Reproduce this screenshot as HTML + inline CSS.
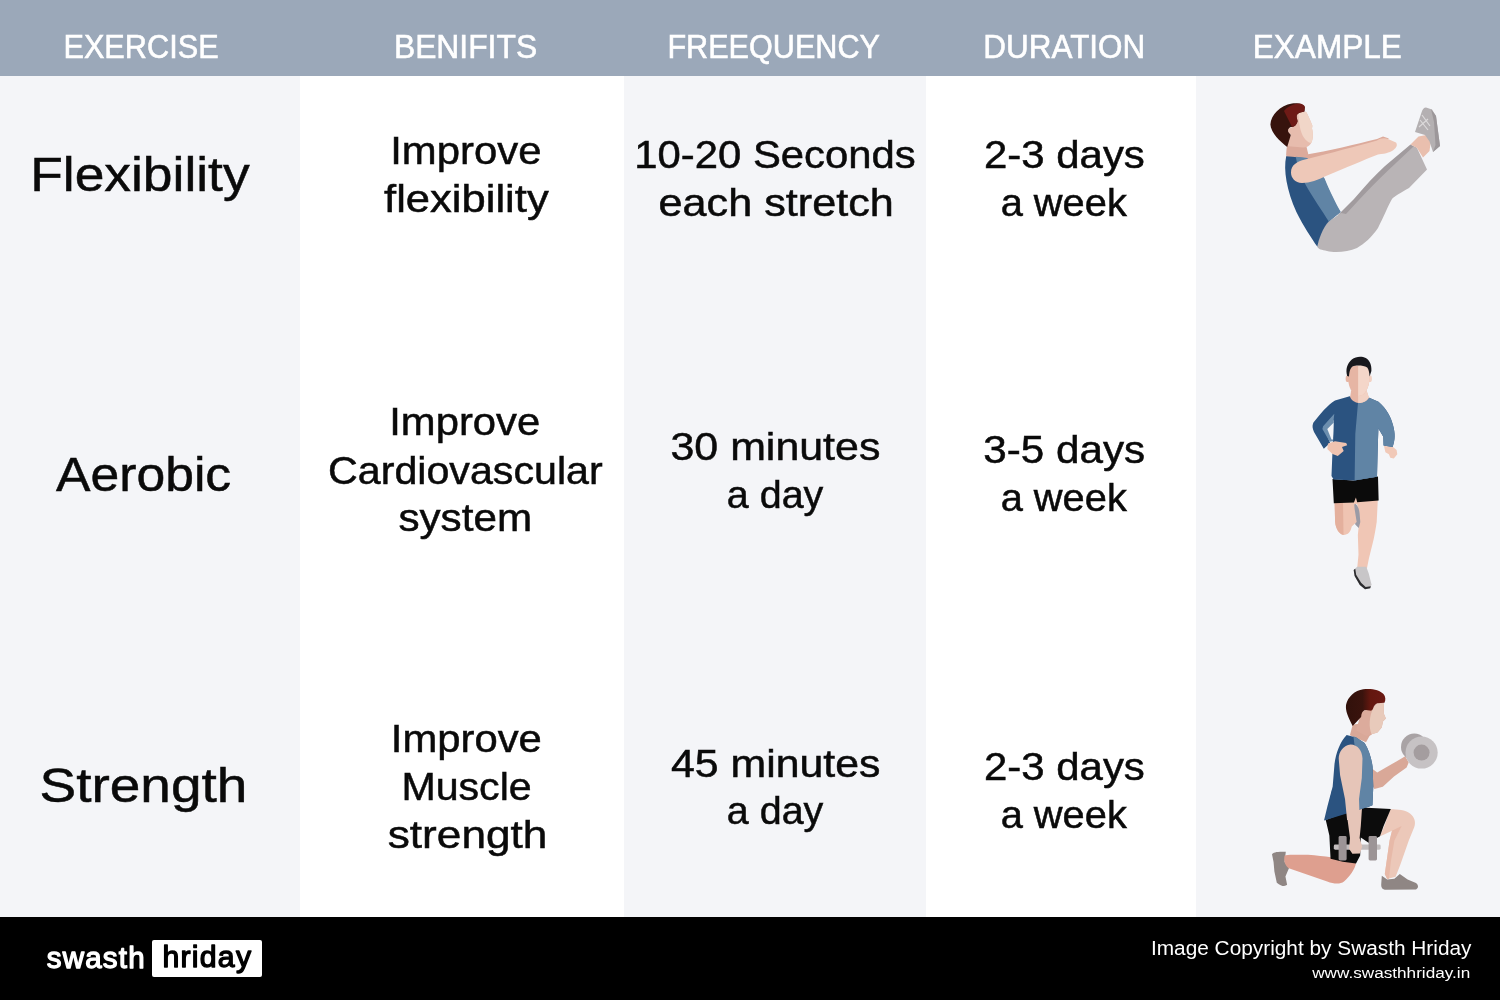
<!DOCTYPE html>
<html lang="en">
<head>
<meta charset="utf-8">
<title>Exercise types - Swasth Hriday</title>
<style>
html,body{margin:0;padding:0;background:#fff;}
body{width:1500px;height:1000px;position:relative;overflow:hidden;font-family:"Liberation Sans",sans-serif;}
.hdr{position:absolute;left:0;top:0;width:1500px;height:75.6px;background:#9ba8b9;}
.col{position:absolute;top:74px;height:843px;}
.c1{left:0;width:300px;background:#f4f5f8;}
.c2{left:300px;width:324px;background:#ffffff;}
.c3{left:624px;width:302px;background:#f4f5f8;}
.c4{left:926px;width:270px;background:#ffffff;}
.c5{left:1196px;width:304px;background:#f4f5f8;}
.ftr{position:absolute;left:0;top:916.7px;width:1500px;height:83.3px;background:#000;}
.logo{position:absolute;left:152.2px;top:22.9px;width:110.3px;height:37.6px;background:#fff;border-radius:2px;}
svg.ov{position:absolute;left:0;top:0;}
svg.ov text{font-family:"Liberation Sans",sans-serif;}
</style>
</head>
<body>
<div class="col c1"></div><div class="col c2"></div><div class="col c3"></div><div class="col c4"></div><div class="col c5"></div>
<div class="hdr"></div>
<div class="ftr"><div class="logo"></div></div>
<svg class="ov" width="1500" height="1000" viewBox="0 0 1500 1000">
<text transform="translate(63.41,58.00) scale(0.9164,1)" font-size="33.5" font-weight="400" fill="#ffffff" stroke="#ffffff" stroke-width="0.6">EXERCISE</text>
<text transform="translate(393.92,58.00) scale(0.9503,1)" font-size="33.5" font-weight="400" fill="#ffffff" stroke="#ffffff" stroke-width="0.6">BENIFITS</text>
<text transform="translate(667.42,58.00) scale(0.9136,1)" font-size="33.5" font-weight="400" fill="#ffffff" stroke="#ffffff" stroke-width="0.6">FREEQUENCY</text>
<text transform="translate(983.35,58.00) scale(0.9391,1)" font-size="33.5" font-weight="400" fill="#ffffff" stroke="#ffffff" stroke-width="0.6">DURATION</text>
<text transform="translate(1252.74,58.00) scale(0.9428,1)" font-size="33.5" font-weight="400" fill="#ffffff" stroke="#ffffff" stroke-width="0.6">EXAMPLE</text>
<text transform="translate(30.21,191.00) scale(1.0894,1)" font-size="49" font-weight="400" fill="#0a0a0a" stroke="#0a0a0a" stroke-width="0.5">Flexibility</text>
<text transform="translate(55.96,490.60) scale(1.0548,1)" font-size="49" font-weight="400" fill="#0a0a0a" stroke="#0a0a0a" stroke-width="0.5">Aerobic</text>
<text transform="translate(39.46,802.00) scale(1.1223,1)" font-size="49" font-weight="400" fill="#0a0a0a" stroke="#0a0a0a" stroke-width="0.5">Strength</text>
<text transform="translate(390.16,163.60) scale(1.0877,1)" font-size="38.5" font-weight="400" fill="#0a0a0a" stroke="#0a0a0a" stroke-width="0.5">Improve</text>
<text transform="translate(384.02,212.00) scale(1.1320,1)" font-size="38.5" font-weight="400" fill="#0a0a0a" stroke="#0a0a0a" stroke-width="0.5">flexibility</text>
<text transform="translate(389.27,435.30) scale(1.0848,1)" font-size="38.5" font-weight="400" fill="#0a0a0a" stroke="#0a0a0a" stroke-width="0.5">Improve</text>
<text transform="translate(328.03,483.70) scale(1.0703,1)" font-size="38.5" font-weight="400" fill="#0a0a0a" stroke="#0a0a0a" stroke-width="0.5">Cardiovascular</text>
<text transform="translate(398.38,531.30) scale(1.0966,1)" font-size="38.5" font-weight="400" fill="#0a0a0a" stroke="#0a0a0a" stroke-width="0.5">system</text>
<text transform="translate(390.77,751.70) scale(1.0862,1)" font-size="38.5" font-weight="400" fill="#0a0a0a" stroke="#0a0a0a" stroke-width="0.5">Improve</text>
<text transform="translate(401.39,799.70) scale(1.0689,1)" font-size="38.5" font-weight="400" fill="#0a0a0a" stroke="#0a0a0a" stroke-width="0.5">Muscle</text>
<text transform="translate(387.74,847.70) scale(1.1478,1)" font-size="38.5" font-weight="400" fill="#0a0a0a" stroke="#0a0a0a" stroke-width="0.5">strength</text>
<text transform="translate(634.31,168.10) scale(1.0867,1)" font-size="38.5" font-weight="400" fill="#0a0a0a" stroke="#0a0a0a" stroke-width="0.5">10-20 Seconds</text>
<text transform="translate(658.52,216.10) scale(1.1223,1)" font-size="38.5" font-weight="400" fill="#0a0a0a" stroke="#0a0a0a" stroke-width="0.5">each stretch</text>
<text transform="translate(670.51,459.80) scale(1.1145,1)" font-size="38.5" font-weight="400" fill="#0a0a0a" stroke="#0a0a0a" stroke-width="0.5">30 minutes</text>
<text transform="translate(726.86,507.80) scale(1.0247,1)" font-size="38.5" font-weight="400" fill="#0a0a0a" stroke="#0a0a0a" stroke-width="0.5">a day</text>
<text transform="translate(671.07,776.50) scale(1.1115,1)" font-size="38.5" font-weight="400" fill="#0a0a0a" stroke="#0a0a0a" stroke-width="0.5">45 minutes</text>
<text transform="translate(726.86,824.30) scale(1.0247,1)" font-size="38.5" font-weight="400" fill="#0a0a0a" stroke="#0a0a0a" stroke-width="0.5">a day</text>
<text transform="translate(983.89,168.10) scale(1.0902,1)" font-size="38.5" font-weight="400" fill="#0a0a0a" stroke="#0a0a0a" stroke-width="0.5">2-3 days</text>
<text transform="translate(1000.65,216.10) scale(1.0347,1)" font-size="38.5" font-weight="400" fill="#0a0a0a" stroke="#0a0a0a" stroke-width="0.5">a week</text>
<text transform="translate(983.33,463.00) scale(1.0967,1)" font-size="38.5" font-weight="400" fill="#0a0a0a" stroke="#0a0a0a" stroke-width="0.5">3-5 days</text>
<text transform="translate(1000.65,511.00) scale(1.0347,1)" font-size="38.5" font-weight="400" fill="#0a0a0a" stroke="#0a0a0a" stroke-width="0.5">a week</text>
<text transform="translate(983.89,779.70) scale(1.0902,1)" font-size="38.5" font-weight="400" fill="#0a0a0a" stroke="#0a0a0a" stroke-width="0.5">2-3 days</text>
<text transform="translate(1000.65,827.70) scale(1.0347,1)" font-size="38.5" font-weight="400" fill="#0a0a0a" stroke="#0a0a0a" stroke-width="0.5">a week</text>
<text transform="translate(46.75,967.60) scale(1.0005,1)" font-size="29.5" font-weight="400" fill="#ffffff" stroke-linejoin="round" letter-spacing="1.2" stroke="#ffffff" stroke-width="1.3">swasth</text>
<text transform="translate(162.46,967.20) scale(1.0257,1)" font-size="29.5" font-weight="400" fill="#000000" stroke-linejoin="round" letter-spacing="1.2" stroke="#000000" stroke-width="1.3">hriday</text>
<text transform="translate(1150.96,954.90) scale(1.0520,1)" font-size="19.8" font-weight="400" fill="#ffffff">Image Copyright by Swasth Hriday</text>
<text transform="translate(1312.20,978.20) scale(1.1301,1)" font-size="15.2" font-weight="400" fill="#ffffff">www.swasthhriday.in</text>
<g id="fig-flex">
  <!-- far arm (darker strip) -->
  <path d="M1304,155 C1330,150.5 1355,144.5 1377,139 L1383,136.5 L1389,138.5 L1378,144 C1350,151 1325,158 1308,162 Z" fill="#dcaa9b"/>
  <!-- far leg (darker) -->
  <path d="M1338,215 L1354,199 C1365,186 1375,175 1385,166 L1410.5,144.5 L1417,148 L1400,175 L1350,225 Z" fill="#a19b9e"/>
  <!-- pants -->
  <path d="M1317.5,247 C1318,238 1322,228 1328,222 L1341,213 L1346,214 L1358,201 C1368,190 1378,180 1388,170.5 L1413.5,146.5 L1417,148 L1427,169.5 L1409,188 C1400,193 1395,196 1392,199 C1388,206 1384,216 1378,228 C1372,237 1364,244 1357,248 C1348,252 1335,253 1327,251 C1322,250 1318,249 1317.5,247 Z" fill="#b9b4b6"/>
  <!-- ankle -->
  <path d="M1410.5,144.5 L1418.5,136.5 L1426.5,135 L1431,140 L1429.5,151 L1423,157.5 L1417,148 Z" fill="#e9bfae"/>
  <!-- shoe -->
  <path d="M1415,132 L1421.5,112.5 C1422.5,109 1424,107.5 1426,107.5 L1432,109.5 L1436,116 L1440,146 L1433,152 L1429.5,141.5 L1425,135 Z" fill="#b4b0b2"/>
  <path d="M1431,109 L1436,116 L1440,146 L1433,152 L1435.5,145 L1434,122 Z" fill="#9c979a"/>
  <path d="M1420,120 L1428,130 M1422,115 L1430,126 M1419,127 L1428,119" stroke="#dcdadb" stroke-width="1.2" fill="none"/>
  <!-- torso -->
  <g transform="translate(1270,140) scale(0.12)">
    <path d="M140,60 L300,70 L325,150 L135,140 Z" fill="#dcaa9b"/>
    <path d="M135,135 C110,250 140,420 220,600 C280,720 340,810 395,890 C405,830 440,730 490,680 L585,600 C545,530 495,430 450,320 L305,150 Z" fill="#2b5380"/>
    <path d="M215,140 L310,150 L455,320 C500,430 550,530 590,600 L490,680 C440,600 350,470 300,380 C260,300 225,210 215,140 Z" fill="#6084a5"/>
  </g>
  <!-- head -->
  <g transform="translate(1260,95) scale(0.08)">
    <path d="M340,620 L580,640 L610,770 L330,750 Z" fill="#dcaa9b"/>
    <path d="M470,215 L575,210 C600,250 630,320 655,385 L650,420 C665,480 665,560 640,600 C620,640 580,655 540,655 L350,640 C340,600 370,520 385,500 L355,440 L400,400 L465,345 L460,250 Z" fill="#e7bcad"/>
    <path d="M480,225 L575,210 C600,250 630,320 655,385 L650,420 C665,480 665,560 640,600 C610,600 560,560 530,500 C500,430 480,330 480,225 Z" fill="#f1d6c8"/>
    <path d="M340,650 C250,580 140,480 130,370 C135,250 250,130 400,105 C470,95 540,110 560,150 L555,205 C520,215 480,215 460,250 C450,290 480,320 465,345 C450,380 430,400 400,400 C380,395 360,410 355,440 C355,470 375,480 385,500 Z" fill="#37130d"/>
    <path d="M300,200 C330,150 420,110 480,105 C530,105 560,130 560,150 L555,205 C520,215 480,215 460,250 C450,290 480,320 465,345 C450,380 430,400 400,400 Z" fill="#6e1a16"/>
    <circle cx="388" cy="445" r="36" fill="#e7bcad"/>
  </g>
  <!-- near arm -->
  <path d="M1291,172.5 C1291,165 1297,161.5 1305,159.5 C1320,156 1345,149 1370,142.5 L1377,140.5 C1380,138.5 1384,137.5 1388,139 L1396,142.5 C1398,145 1396,148 1394,149.5 C1391,152 1387,153.5 1378,154.5 C1365,159.5 1345,168 1326,176 C1318,180 1310,183 1302,183 C1295,182.5 1291,178 1291,172.5 Z" fill="#eec8b8"/>
</g>

<g id="fig-aero">
  <g transform="translate(1300,470) scale(0.13)">
    <!-- right leg -->
    <path d="M405,200 L600,200 L590,400 C580,470 570,520 560,560 L530,680 L515,755 L440,755 L450,650 L445,500 L455,400 L440,262 L405,262 Z" fill="#f0c6b5"/>
    <!-- back shoe -->
    <path d="M405,265 L430,262 C445,280 455,300 458,330 L464,400 L452,447 L425,420 L420,340 Z" fill="#9b9ba6"/>
    <!-- left leg (bent) -->
    <path d="M265,200 L270,400 C275,450 300,495 335,500 C370,500 390,475 398,435 L436,400 L420,300 L412,200 Z" fill="#efc4b2"/>
    <path d="M265,200 L270,400 C275,450 300,495 335,500 L330,200 Z" fill="#e4b09d"/>
    <!-- shoe -->
    <path d="M440,745 L510,745 L530,800 L550,880 L540,910 L500,917 L460,885 L420,815 L413,770 Z" fill="#c8c6c8"/>
    <path d="M413,770 L420,815 L460,885 L500,917 L540,910 L545,895 L505,900 L470,868 L432,805 L425,760 Z" fill="#2b2b2e"/>
    <!-- shorts -->
    <path d="M250,70 L410,80 L600,50 L605,235 L440,248 L430,212 L415,250 L260,255 Z" fill="#0b0b0b"/>
  </g>
  <g transform="translate(1300,350) scale(0.14)">
    <!-- right hand -->
    <path d="M600,685 L660,690 L690,715 L695,745 L670,775 L645,770 L635,745 L610,730 Z" fill="#f1c9b8"/>
    <!-- shirt -->
    <path d="M355,330 L250,360 C200,390 140,460 95,520 C85,545 90,560 100,585 L170,705 L215,665 L190,600 L185,560 L240,500 L235,650 L225,900 L240,925 L390,932 L550,905 L555,700 L560,560 L595,620 L597,682 L662,692 C680,640 680,600 665,540 C650,480 620,420 560,370 L490,340 L430,375 Z" fill="#2b5380"/>
    <path d="M415,370 L430,375 L490,340 L560,370 C620,420 650,480 665,540 C680,600 680,640 662,692 L597,682 L595,620 L560,560 L555,700 L550,905 L390,932 L395,600 Z" fill="#6084a5"/>
    <path d="M245,455 L165,545 L160,565 L212,655 L237,650 L240,500 Z" fill="#6c8eae"/>
    <path d="M240,520 L195,565 L225,640 L236,640 Z" fill="#f4f5f8"/>
    <!-- left hand -->
    <path d="M200,668 L250,652 L330,665 L337,680 L300,692 L312,722 L270,757 L232,742 L195,707 Z" fill="#efc3b0"/>
    <!-- neck + face -->
    <path d="M365,290 L475,290 L492,340 C480,365 450,378 428,378 C400,378 370,365 358,335 Z" fill="#e6b5a4"/>
    <path d="M415,290 L475,290 L492,340 C480,365 450,378 428,378 L415,377 Z" fill="#f2d2c4"/>
    <ellipse cx="340" cy="205" rx="14" ry="24" fill="#e6b5a4"/>
    <ellipse cx="500" cy="205" rx="14" ry="24" fill="#f2d2c4"/>
    <path d="M350,130 C370,105 470,105 490,130 L497,200 C495,250 480,290 455,315 C435,330 405,330 385,315 C360,290 345,250 343,200 Z" fill="#e6b5a4"/>
    <path d="M415,108 C450,108 480,115 490,130 L497,200 C495,250 480,290 455,315 C445,325 430,328 415,328 Z" fill="#f4d6c9"/>
    <!-- hair -->
    <path d="M337,185 C325,140 335,100 370,68 C400,45 440,42 470,58 C500,75 512,110 510,150 L497,190 C495,160 490,135 480,125 C450,108 400,108 375,118 C358,130 352,160 350,190 Z" fill="#18181d"/>
  </g>
</g>

<g id="fig-str">
  <defs><linearGradient id="hairg" x1="0" y1="0" x2="1" y2="0"><stop offset="0" stop-color="#31110b"/><stop offset="0.42" stop-color="#3a130d"/><stop offset="0.62" stop-color="#64170f"/><stop offset="1" stop-color="#6b1914"/></linearGradient></defs>
  <g transform="translate(1260,790) scale(0.12)">
    <!-- back shoe -->
    <path d="M100,535 C110,520 140,512 215,515 L205,600 L242,650 L212,720 L226,790 C210,805 180,805 140,772 L120,680 L113,600 Z" fill="#8f8684"/>
    <!-- back leg -->
    <path d="M590,560 L800,610 C790,660 750,720 700,762 C670,785 620,785 560,762 L240,652 C210,630 195,590 205,545 C230,535 300,540 400,540 C470,545 540,555 590,560 Z" fill="#de9f8f"/>
    <!-- front leg -->
    <path d="M1085,160 C1150,160 1210,165 1250,195 C1290,225 1300,270 1285,310 L1240,420 L1170,620 L1130,722 L1060,742 L1040,700 L1060,560 L1080,420 L1100,340 L1030,372 L1000,385 L1040,290 Z" fill="#ecc8b9"/>
    <path d="M1100,340 L1180,300 L1120,420 L1090,600 L1075,740 L1060,742 L1040,700 L1060,560 L1080,420 Z" fill="#e7b9a8"/>
    <!-- front shoe -->
    <path d="M1015,715 L1060,745 L1120,740 L1165,700 L1230,745 L1300,775 C1320,790 1325,815 1300,830 L1050,832 C1020,830 1010,815 1010,790 Z" fill="#8f8684"/>
    <!-- torso lower -->
    <path d="M600,0 L545,252 L700,195 L850,150 L905,135 L920,0 Z" fill="#2b5380"/>
    <path d="M820,0 L920,0 L905,135 L850,150 Z" fill="#6084a5"/>
    <!-- shorts -->
    <path d="M548,250 L720,185 L850,145 L1090,158 L1030,300 L1000,385 L905,440 L840,395 L835,545 L800,612 L690,598 L588,572 L578,380 Z" fill="#0c0c0c"/>
    <!-- dumbbell -->
    <rect x="615" y="455" width="390" height="42" rx="12" fill="#c2bdbe"/>
    <rect x="655" y="383" width="67" height="205" rx="12" fill="#9c9496"/>
    <rect x="905" y="383" width="70" height="205" rx="12" fill="#9c9496"/>
    <!-- near arm lower -->
    <path d="M705,0 L835,0 L850,150 L840,300 L830,400 L852,470 L832,530 L770,532 L742,490 L750,400 L730,250 Z" fill="#e6c5b8"/>
  </g>
  <g transform="translate(1310,680) scale(0.14)">
    <!-- far arm -->
    <path d="M440,630 L480,660 L620,580 L680,545 L705,590 L690,625 L600,690 L520,762 L460,778 L438,740 Z" fill="#d9a898"/>
    <!-- dumbbell -->
    <circle cx="745" cy="478" r="95" fill="#a9a3a5"/>
    <circle cx="797" cy="518" r="115" fill="#c6c2c4"/>
    <circle cx="797" cy="518" r="57" fill="#a49d9f"/>
    <!-- neck -->
    <path d="M305,320 L285,395 L400,445 L425,400 L445,385 L420,300 Z" fill="#d9a898"/>
    <!-- torso -->
    <path d="M262,392 C215,440 185,520 175,600 L162,760 L125,900 L100,1003 L414,908 L446,895 L452,760 L447,620 C440,560 420,500 390,450 L330,410 Z" fill="#2b5380"/>
    <path d="M310,402 L330,410 L390,450 C420,500 440,560 447,620 L452,760 L446,895 L414,908 L330,932 L335,600 Z" fill="#6084a5"/>
    <!-- head -->
    <path d="M365,230 L400,212 L455,195 L480,165 L528,168 L527,240 L542,275 L522,295 L512,340 L482,375 L440,388 L400,400 L330,360 Z" fill="#dcab9c"/>
    <path d="M455,195 L480,165 L528,168 L527,240 L542,275 L522,295 L512,340 L482,375 L440,388 C420,340 420,260 455,195 Z" fill="#e8cabb"/>
    <path d="M305,328 C275,270 250,220 258,175 C270,120 320,75 380,66 C440,58 500,72 525,100 C540,118 542,140 532,162 L480,166 C465,175 455,190 452,200 C445,215 440,222 425,218 L400,214 C385,215 372,225 368,245 C366,255 366,262 365,265 Z" fill="url(#hairg)"/>
    <!-- near arm upper -->
    <path d="M205,560 C205,510 240,465 290,460 C340,462 372,500 375,560 L370,700 L350,850 L355,1000 L265,1000 L250,850 L215,680 Z" fill="#e6c5b8"/>
  </g>
</g>

</svg>
</body>
</html>
